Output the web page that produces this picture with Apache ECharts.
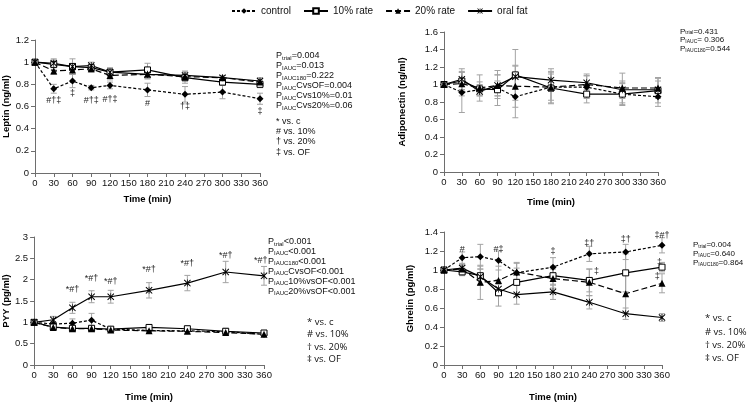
<!DOCTYPE html>
<html><head><meta charset="utf-8">
<script src="https://cdn.jsdelivr.net/npm/echarts@6/dist/echarts.min.js"></script>
<style>html,body{margin:0;padding:0;background:#fff}#c{width:750px;height:403px}</style>
</head><body><div id="c"></div>
<script>
const times = [0,30,60,90,120,180,240,300,360];
const groupNames = ['control','10% rate','20% rate','oral fat'];
const xTicks = {min:0, max:360, interval:30};

// Leptin
const leptinControl = [1.0,0.76,0.83,0.77,0.79,0.75,0.71,0.73,0.67];
const leptin10 = [1.0,0.98,0.96,0.95,0.91,0.93,0.86,0.82,0.80];
const leptin20 = [1.0,0.92,0.93,0.94,0.88,0.89,0.87,0.86,0.82];
const leptinOF = [1.0,0.99,0.96,0.97,0.91,0.89,0.88,0.86,0.83];
const leptinControlErr = [0,0.04,0.06,0.02,0.03,0.06,0.07,0.06,0.05];
const leptin10Err = [0,0.05,0.07,0.03,0.04,0.06,0.05,0.03,0.03];
const leptin20Err = [0,0.03,0.04,0.03,0.04,0.04,0.04,0.02,0.03];
const leptinOFErr = [0,0.03,0.03,0.03,0.03,0.04,0.04,0.02,0.03];
const leptinMarks = [[30,0.65,'#†‡'],[60,0.715,'‡'],[90,0.655,'#†‡'],[120,0.665,'#†‡'],[180,0.63,'#'],[240,0.60,'†‡'],[360,0.555,'‡']];

// Adiponectin
const adipoControl = [1.0,0.91,0.94,0.96,0.86,0.97,0.97,0.89,0.86];
const adipo10 = [1.0,1.04,0.95,0.94,1.11,0.96,0.89,0.89,0.93];
const adipo20 = [1.0,1.01,0.96,0.99,0.98,0.97,1.0,0.96,0.96];
const adipoOF = [1.0,1.06,0.92,0.99,1.09,1.05,1.02,0.94,0.94];
const adipoControlErr = [0,0.23,0.06,0.2,0.24,0.15,0.13,0.13,0.11];
const adipo10Err = [0,0.1,0.08,0.1,0.29,0.18,0.1,0.12,0.14];
const adipo20Err = [0,0.14,0.15,0.12,0.24,0.18,0.12,0.17,0.12];
const adipoOFErr = [0,0.12,0.05,0.12,0.12,0.13,0.08,0.1,0.1];
const adipoMarks = [];

// PYY
const pyyControl = [1.0,0.96,0.98,1.05,0.84,0.81,0.80,0.78,0.72];
const pyy10 = [1.0,0.89,0.86,0.86,0.84,0.88,0.85,0.79,0.75];
const pyy20 = [1.0,0.88,0.85,0.85,0.82,0.80,0.79,0.76,0.72];
const pyyOF = [1.0,1.06,1.34,1.60,1.60,1.75,1.92,2.18,2.09];
const pyyControlErr = [0,0.05,0.1,0.16,0.05,0.05,0.06,0.06,0.05];
const pyy10Err = [0,0.06,0.06,0.05,0.05,0.07,0.06,0.07,0.06];
const pyy20Err = [0,0.04,0.05,0.05,0.05,0.05,0.05,0.06,0.05];
const pyyOFErr = [0,0.08,0.13,0.14,0.15,0.18,0.18,0.25,0.22];
const pyyMarks = [[60,1.78,'*#†'],[90,2.02,'*#†'],[120,1.96,'*#†'],[180,2.23,'*#†'],[240,2.37,'*#†'],[300,2.57,'*#†'],[355,2.45,'*#†']];

// Ghrelin
const ghrelinControl = [1.0,1.13,1.14,1.10,0.97,1.03,1.17,1.19,1.26];
const ghrelin10 = [1.0,0.98,0.94,0.76,0.87,0.94,0.89,0.97,1.03];
const ghrelin20 = [1.0,1.01,0.87,0.89,0.98,0.91,0.87,0.75,0.86];
const ghrelinOF = [1.0,1.02,0.93,0.80,0.74,0.77,0.66,0.54,0.50];
const ghrelinControlErr = [0,0.06,0.13,0.1,0.1,0.1,0.08,0.08,0.08];
const ghrelin10Err = [0,0.04,0.1,0.14,0.15,0.1,0.12,0.2,0.05];
const ghrelin20Err = [0,0.05,0.18,0.15,0.1,0.1,0.14,0.2,0.1];
const ghrelinOFErr = [0,0.03,0.08,0.05,0.1,0.08,0.07,0.06,0.04];
const ghrelinMarks = [[30,1.215,'#'],[90,1.215,'#‡'],[180,1.19,'‡'],[240,1.28,'‡†'],[300,1.32,'‡†'],[360,1.36,'‡#†'],[252,0.98,'‡'],[356,1.08,'‡'],[352,0.93,'‡']];

const panels = [
  {grid:{left:34, top:40, width:226, height:133}, yMax:1.2, yInt:0.2, yName:'Leptin (ng/ml)', yGap:24, xGap:21,
   vals:[leptinControl,leptin10,leptin20,leptinOF], errs:[leptinControlErr,leptin10Err,leptin20Err,leptinOFErr], marks:leptinMarks},
  {grid:{left:444, top:32, width:214, height:140}, yMax:1.6, yInt:0.2, yName:'Adiponectin (ng/ml)', yGap:37, xGap:25,
   vals:[adipoControl,adipo10,adipo20,adipoOF], errs:[adipoControlErr,adipo10Err,adipo20Err,adipoOFErr], marks:adipoMarks},
  {grid:{left:32, top:237, width:232, height:132}, yMax:3, yInt:0.5, yName:'PYY (pg/ml)', yGap:23, xGap:27,
   vals:[pyyControl,pyy10,pyy20,pyyOF], errs:[pyyControlErr,pyy10Err,pyy20Err,pyyOFErr], marks:pyyMarks},
  {grid:{left:444, top:232, width:218, height:137}, yMax:1.4, yInt:0.2, yName:'Ghrelin (pg/ml)', yGap:29, xGap:27,
   vals:[ghrelinControl,ghrelin10,ghrelin20,ghrelinOF], errs:[ghrelinControlErr,ghrelin10Err,ghrelin20Err,ghrelinOFErr], marks:ghrelinMarks}
];

const FONT = '"Liberation Sans", Arial, sans-serif';
const AX = '#6e6e6e';
const starPath = 'path://M0,1L1,0L4.5,3.5L4.5,0L5.5,0L5.5,3.5L9,0L10,1L6,5L10,9L9,10L5.5,6.5L5.5,10L4.5,10L4.5,6.5L1,10L0,9L4,5Z';
const styles = [
  {symbol:'diamond', symbolSize:7, line:{type:[3,2], width:1.2}, item:{color:'#000'}},
  {symbol:'rect', symbolSize:6, line:{type:'solid', width:1.2}, item:{color:'#fff', borderColor:'#000', borderWidth:1}},
  {symbol:'triangle', symbolSize:7, line:{type:[6,3], width:1.2}, item:{color:'#000'}},
  {symbol:starPath, symbolSize:7, line:{type:'solid', width:1.2}, item:{color:'#000'}}
];

const grids=[], xAxes=[], yAxes=[], series=[];
panels.forEach((p,pi)=>{
  grids.push(p.grid);
  xAxes.push({type:'value', gridIndex:pi, min:xTicks.min, max:xTicks.max, interval:xTicks.interval,
    name:'Time (min)', nameLocation:'middle', nameGap:p.xGap,
    nameTextStyle:{fontFamily:FONT, fontWeight:'bold', fontSize:9.5, color:'#000'},
    axisLine:{lineStyle:{color:AX}}, axisTick:{show:true, length:4, lineStyle:{color:AX}},
    axisLabel:{fontFamily:FONT, fontSize:9.5, color:'#111', margin:5}, splitLine:{show:false}});
  yAxes.push({type:'value', gridIndex:pi, min:0, max:p.yMax, interval:p.yInt,
    name:p.yName, nameLocation:'middle', nameRotate:90, nameGap:p.yGap,
    nameTextStyle:{fontFamily:FONT, fontWeight:'bold', fontSize:9.5, color:'#000'},
    axisLine:{show:true, lineStyle:{color:AX}}, axisTick:{show:true, length:4, lineStyle:{color:AX}},
    axisLabel:{fontFamily:FONT, fontSize:9.5, color:'#111', margin:6}, splitLine:{show:false}});
  p.vals.forEach((vals,gi)=>{
    series.push({type:'custom', name:'err'+pi+'_'+gi, xAxisIndex:pi, yAxisIndex:pi, z:1, silent:true,
      data: times.map((t,i)=>[t, vals[i], p.errs[gi][i]]),
      encode:{x:0, y:1},
      renderItem:(params, api)=>{
        const x=api.value(0), v=api.value(1), e=api.value(2);
        if(!e) return null;
        const top=api.coord([x,v+e]), bot=api.coord([x,v-e]);
        const w=3, st={stroke:'#a3a3a3', lineWidth:1};
        return {type:'group', children:[
          {type:'line', shape:{x1:top[0],y1:top[1],x2:bot[0],y2:bot[1]}, style:st},
          {type:'line', shape:{x1:top[0]-w,y1:top[1],x2:top[0]+w,y2:top[1]}, style:st},
          {type:'line', shape:{x1:bot[0]-w,y1:bot[1],x2:bot[0]+w,y2:bot[1]}, style:st}
        ]};
      }});
  });
  p.vals.forEach((vals,gi)=>{
    const s=styles[gi];
    series.push({type:'line', name:groupNames[gi], xAxisIndex:pi, yAxisIndex:pi, z:3,
      data: times.map((t,i)=>[t, vals[i]]),
      symbol:s.symbol, symbolSize:s.symbolSize, showAllSymbol:true,
      lineStyle:Object.assign({color:'#000'}, s.line), itemStyle:s.item});
  });
  if(p.marks.length){
    series.push({type:'custom', name:'marks'+pi, xAxisIndex:pi, yAxisIndex:pi, z:4, silent:true,
      data:p.marks, encode:{x:0,y:1},
      renderItem:(params, api)=>{
        const pt=api.coord([api.value(0), api.value(1)]);
        return {type:'text', x:pt[0], y:pt[1], style:{text:p.marks[params.dataIndex][2], font:'9px '+FONT, fill:'#222', align:'center', verticalAlign:'middle'}};
      }});
  }
});

function pBlock(x,y,lines,fs,lh){
  return {type:'text', left:x, top:y, style:{
    text: lines.join('\n'), fill:'#111', font: fs+'px '+FONT, lineHeight:lh,
    rich:{p:{fontSize:fs, fontFamily:FONT, lineHeight:lh, fill:'#111'},
          s:{fontSize:Math.round(fs*0.62), fontFamily:FONT, lineHeight:lh, verticalAlign:'bottom', fill:'#111', padding:[3,0,0,0]}}}};
}
function listBlock(x,y,lines,fs,lh,font){
  return {type:'text', left:x, top:y, style:{text:lines.join('\n'), font:fs+'px '+font, lineHeight:lh, fill:'#111'}};
}

const graphics = [
  pBlock(276,51,['{p|P}{s|trial}{p|=0.004}','{p|P}{s|IAUC}{p|=0.013}','{p|P}{s|IAUC180}{p|=0.222}','{p|P}{s|IAUC}{p|CvsOF=0.004}','{p|P}{s|IAUC}{p|Cvs10%=0.01}','{p|P}{s|IAUC}{p|Cvs20%=0.06}'],9,10),
  listBlock(276,116,['* vs. c','# vs. 10%','† vs. 20%','‡ vs. OF'],9,10.3,FONT),
  pBlock(680,27,['{p|P}{s|trial}{p|=0.431}','{p|P}{s|IAUC}{p|= 0.306}','{p|P}{s|IAUC180}{p|=0.544}'],8,8.6),
  pBlock(268,237,['{p|P}{s|trial}{p|<0.001}','{p|P}{s|IAUC}{p|<0.001}','{p|P}{s|IAUC180}{p|<0.001}','{p|P}{s|IAUC}{p|CvsOF<0.001}','{p|P}{s|IAUC}{p|10%vsOF<0.001}','{p|P}{s|IAUC}{p|20%vsOF<0.001}'],9,9.9),
  listBlock(307,316,['* vs. c','# vs. 10%','† vs. 20%','‡ vs. OF'],9.5,12.4,'"Open Sans", sans-serif'),
  pBlock(693,240,['{p|P}{s|trial}{p|=0.004}','{p|P}{s|IAUC}{p|=0.640}','{p|P}{s|IAUC180}{p|=0.864}'],8,9),
  listBlock(705,312,['* vs. c','# vs. 10%','† vs. 20%','‡ vs. OF'],9.5,13.3,'"Open Sans", sans-serif')
];

const chart = echarts.init(document.getElementById('c'), null, {renderer:'canvas'});
chart.setOption({
  animation:false,
  legend:{data:groupNames, top:1, left:226, itemWidth:24, itemHeight:7, itemGap:12,
    textStyle:{fontFamily:FONT, fontSize:10, color:'#111'}},
  grid:grids, xAxis:xAxes, yAxis:yAxes, series:series, graphic:graphics
});
</script></body></html>
